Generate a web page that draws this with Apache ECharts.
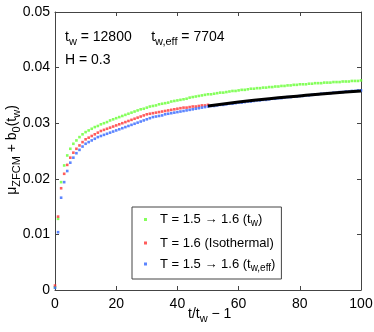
<!DOCTYPE html>
<html>
<head>
<meta charset="utf-8">
<script src="https://cdn.jsdelivr.net/npm/echarts@6/dist/echarts.min.js"></script>
<style>
html, body { margin: 0; padding: 0; background: #fff; }
#main { width: 374px; height: 332px; }
</style>
</head>
<body>
<div id="main"></div>
<script>
// t/tw - 1 : 0..100
var xValues = [];
for (var i = 0; i <= 100; i++) xValues.push(i);

var greenVals = [0.0005, 0.0128, 0.0194, 0.0224, 0.0242, 0.0254, 0.0263, 0.0269, 0.0275, 0.0280,
    0.0284, 0.0287, 0.0290, 0.0293, 0.0295, 0.0298, 0.0300, 0.0302, 0.0305, 0.0307,
    0.0309, 0.0311, 0.0313, 0.0315, 0.0317, 0.0319, 0.0321, 0.0323, 0.0325, 0.0326,
    0.0328, 0.0330, 0.0331, 0.0332, 0.0334, 0.0335, 0.0336, 0.0337, 0.0339, 0.0340,
    0.0341, 0.0342, 0.0343, 0.0344, 0.0346, 0.0347, 0.0348, 0.0349, 0.0350, 0.0351,
    0.0352, 0.0352, 0.0353, 0.0354, 0.0355, 0.0355, 0.0356, 0.0357, 0.0358, 0.0358,
    0.0359, 0.0360, 0.0360, 0.0361, 0.0362, 0.0362, 0.0363, 0.0363, 0.0364, 0.0364,
    0.0365, 0.0365, 0.0366, 0.0366, 0.0367, 0.0367, 0.0368, 0.0368, 0.0369, 0.0369,
    0.0370, 0.0370, 0.0370, 0.0371, 0.0371, 0.0372, 0.0372, 0.0372, 0.0373, 0.0373,
    0.0373, 0.0374, 0.0374, 0.0374, 0.0375, 0.0375, 0.0375, 0.0376, 0.0376, 0.0376,
    0.0377];

var redVals = [0.0008, 0.0132, 0.0183, 0.0209, 0.0225, 0.0238, 0.0247, 0.0254, 0.0260, 0.0266,
    0.0271, 0.0274, 0.0277, 0.0280, 0.0283, 0.0286, 0.0288, 0.0290, 0.0292, 0.0294,
    0.0296, 0.0298, 0.0300, 0.0302, 0.0304, 0.0306, 0.0308, 0.0310, 0.0312, 0.0314,
    0.0316, 0.0317, 0.0318, 0.0319, 0.0320, 0.0321, 0.0322, 0.0323, 0.0324, 0.0325,
    0.0326, 0.0327, 0.0328, 0.0328, 0.0329, 0.0330, 0.0330, 0.0331, 0.0332, 0.0332,
    0.0333];

var blueVals = [0.0004, 0.0104, 0.0166, 0.0194, 0.0214, 0.0229, 0.0238, 0.0246, 0.0252, 0.0258,
    0.0263, 0.0266, 0.0269, 0.0272, 0.0275, 0.0277, 0.0279, 0.0281, 0.0283, 0.0285,
    0.0287, 0.0289, 0.0291, 0.0293, 0.0295, 0.0297, 0.0299, 0.0301, 0.0303, 0.0305,
    0.0307, 0.0309, 0.0311, 0.0312, 0.0313, 0.0314, 0.0316, 0.0317, 0.0318, 0.0319,
    0.0320, 0.0321, 0.0322, 0.0323, 0.0324, 0.0325, 0.0326, 0.0327, 0.0328, 0.0329,
    0.0330, 0.0331, 0.0331, 0.0332, 0.0333, 0.0333, 0.0334, 0.0335, 0.0335, 0.0336,
    0.0337, 0.0337, 0.0338, 0.0339, 0.0339, 0.0340, 0.0341, 0.0341, 0.0342, 0.0342,
    0.0343, 0.0344, 0.0344, 0.0345, 0.0345, 0.0346, 0.0347, 0.0347, 0.0348, 0.0348,
    0.0349, 0.0349, 0.0350, 0.0350, 0.0351, 0.0352, 0.0352, 0.0353, 0.0353, 0.0354,
    0.0354, 0.0355, 0.0355, 0.0356, 0.0356, 0.0357, 0.0357, 0.0358, 0.0358, 0.0359,
    0.0359];

// fit line (black)
var fitX = [50, 60, 70, 80, 90, 100];
var fitY = [0.0331, 0.0338, 0.0344, 0.0349, 0.0354, 0.0358];

var seriesNames = ['T = 1.5 → 1.6 (tw)', 'T = 1.6 (Isothermal)', 'T = 1.5 → 1.6 (tw,eff)'];
var legendRich = {
    'T = 1.5 → 1.6 (tw)': 'T = 1.5 → 1.6 ({s|t}{sub|w})',
    'T = 1.6 (Isothermal)': 'T = 1.6 (Isothermal)',
    'T = 1.5 → 1.6 (tw,eff)': 'T = 1.5 → 1.6 ({s|t}{sub|w,eff})'
};

function pairs(xs, ys) {
    var out = [];
    for (var i = 0; i < ys.length; i++) out.push([xs[i], ys[i]]);
    return out;
}

var FONT = 'Liberation Sans';
var subStyle = { fontSize: 10, fontFamily: FONT, color: '#000', verticalAlign: 'bottom', padding: [8, 0, 0, 0] };
var sStyle = { fontSize: 13, fontFamily: FONT, color: '#000' };
// rich styles for graphic texts (use fill)
var gRich = {
    n: { fontSize: 14, fontFamily: FONT, fill: '#000' },
    sub: { fontSize: 11, fontFamily: FONT, fill: '#000', verticalAlign: 'bottom', padding: [9, 0, 0, 0] }
};

var myChart = echarts.init(document.getElementById('main'));

var option = {
    animation: false,
    grid: { left: 55, right: 13, top: 12, bottom: 42, outerBoundsMode: 'none', containLabel: false },
    xAxis: [
        {
            type: 'value', min: 0, max: 100, interval: 20,
            axisLine: { lineStyle: { color: '#444', width: 1 } },
            axisTick: { inside: true, length: 4, lineStyle: { color: '#444' } },
            axisLabel: { color: '#000', fontSize: 14, fontFamily: FONT, margin: 7 },
            splitLine: { show: false }
        },
        {
            type: 'value', min: 0, max: 100, interval: 20, position: 'top',
            axisLine: { onZero: false, lineStyle: { color: '#444', width: 1 } },
            axisTick: { inside: true, length: 4, lineStyle: { color: '#444' } },
            axisLabel: { show: false },
            splitLine: { show: false }
        }
    ],
    yAxis: [
        {
            type: 'value', min: 0, max: 0.05, interval: 0.01,
            axisLine: { lineStyle: { color: '#444', width: 1 } },
            axisTick: { inside: true, length: 4, lineStyle: { color: '#444' } },
            axisLabel: {
                color: '#000', fontSize: 14, fontFamily: FONT, margin: 5,
                formatter: function (v) { return v === 0 ? '0' : String(+v.toFixed(2)); }
            },
            splitLine: { show: false }
        },
        {
            type: 'value', min: 0, max: 0.05, interval: 0.01, position: 'right',
            axisLine: { show: true, onZero: false, lineStyle: { color: '#444', width: 1 } },
            axisTick: { show: true, inside: true, length: 4, lineStyle: { color: '#444' } },
            axisLabel: { show: false },
            splitLine: { show: false }
        }
    ],
    legend: {
        orient: 'vertical',
        left: 132, top: 207,
        width: 152, height: 78,
        padding: [6, 6, 6, 12],
        itemGap: 8,
        itemWidth: 3, itemHeight: 3,
        borderColor: '#444', borderWidth: 1,
        backgroundColor: '#fff',
        data: seriesNames.map(function (n) { return { name: n, icon: 'rect' }; }),
        formatter: function (name) { return legendRich[name]; },
        textStyle: {
            fontSize: 13, fontFamily: FONT, color: '#000', padding: [0, 0, 0, 8],
            rich: { s: sStyle, sub: subStyle }
        }
    },
    series: [
        {
            name: seriesNames[0], type: 'scatter', symbol: 'rect', symbolSize: 2.6,
            itemStyle: { color: '#66ff33' },
            data: pairs(xValues, greenVals)
        },
        {
            name: seriesNames[1], type: 'scatter', symbol: 'rect', symbolSize: 2.6,
            itemStyle: { color: '#ff3333' },
            data: pairs(xValues, redVals)
        },
        {
            name: seriesNames[2], type: 'scatter', symbol: 'rect', symbolSize: 2.6,
            itemStyle: { color: '#3366ff' },
            data: pairs(xValues, blueVals)
        },
        {
            name: 'fit', type: 'line', symbol: 'none', smooth: true,
            lineStyle: { color: '#000', width: 3 },
            data: pairs(fitX, fitY)
        }
    ],
    graphic: [
        {
            type: 'text', left: 65, top: 30,
            style: { text: '{n|t}{sub|w}{n| = 12800     t}{sub|w,eff}{n| = 7704}', rich: gRich }
        },
        {
            type: 'text', left: 65, top: 53,
            style: { text: 'H = 0.3', fontSize: 14, fontFamily: FONT, fill: '#000' }
        },
        // x axis title
        {
            type: 'text', left: 188, top: 307,
            style: { text: '{n|t/t}{sub|w}{n| − 1}', rich: gRich }
        },
        // y axis title (rotated)
        {
            type: 'text', x: 12, y: 150, rotation: Math.PI / 2,
            style: {
                text: '{n|μ}{sub|ZFCM}{n| + b}{sub|0}{n|(t}{sub|w}{n|)}',
                rich: gRich, align: 'center', verticalAlign: 'middle'
            }
        }
    ]
};

myChart.setOption(option);
</script>
</body>
</html>
